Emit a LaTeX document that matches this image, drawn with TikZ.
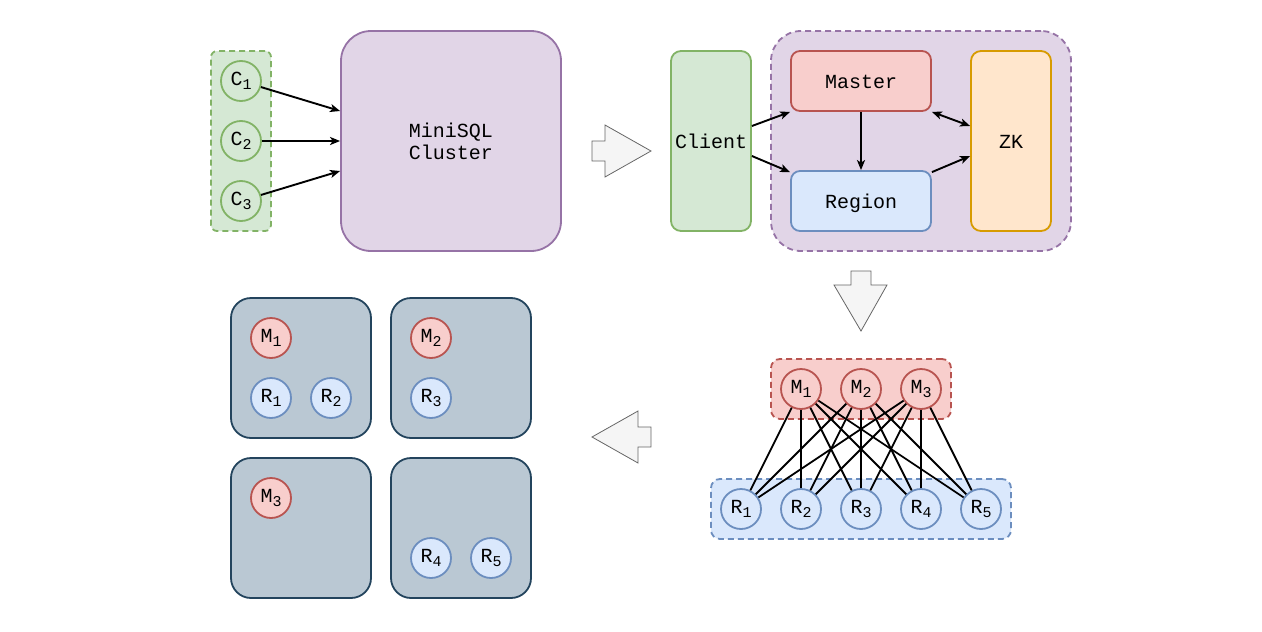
\documentclass[tikz,border=0pt]{standalone}
\usepackage{fontspec}
\setmonofont{Liberation Mono}
\usetikzlibrary{arrows.meta,calc}
\definecolor{gfill}{HTML}{D5E8D4}\definecolor{gline}{HTML}{82B366}
\definecolor{pfill}{HTML}{E1D5E7}\definecolor{pline}{HTML}{9673A6}
\definecolor{rfill}{HTML}{F8CECC}\definecolor{rline}{HTML}{B85450}
\definecolor{bfill}{HTML}{DAE8FC}\definecolor{bline}{HTML}{6C8EBF}
\definecolor{ofill}{HTML}{FFE6CC}\definecolor{oline}{HTML}{D79B00}
\definecolor{sfill}{HTML}{BAC8D3}\definecolor{sline}{HTML}{23445D}
\definecolor{afill}{HTML}{F5F5F5}\definecolor{aline}{HTML}{666666}
\newcommand\myfont{\ttfamily\fontsize{20}{22}\selectfont}
\newcommand\sbs[1]{\raisebox{-4pt}{\fontsize{15}{15}\selectfont#1}}
\tikzset{
  base/.style={draw, line width=1.8pt, font=\myfont, align=center, inner sep=0pt},
  circ/.style={base, circle, minimum size=40pt},
  gcirc/.style={circ, fill=gfill, draw=gline},
  rcirc/.style={circ, fill=rfill, draw=rline},
  bcirc/.style={circ, fill=bfill, draw=bline},
  rbox/.style={base, rectangle, rounded corners=#1},
  oneline/.style={text height=14pt, text depth=0pt},
  dashbox/.style={dash pattern=on 6pt off 4pt},
  conn/.style={line width=1.9pt, -{Stealth[length=10pt,width=8pt,inset=2.5pt]}},
  bconn/.style={line width=1.9pt, {Stealth[length=10pt,width=8pt,inset=2.5pt]}-{Stealth[length=10pt,width=8pt,inset=2.5pt]}},
  mesh/.style={line width=1.8pt},
  bigarrow/.style={fill=afill, draw=aline, line width=0.8pt, line join=miter},
  server/.style={rbox=20pt, fill=sfill, draw=sline, minimum width=140pt, minimum height=140pt}
}
\begin{document}
\begin{tikzpicture}[x=1pt,y=-1pt]
\useasboundingbox (0,0) rectangle (1262,632);
% --- top left
\node[rbox=6pt, dashbox, fill=gfill, draw=gline, minimum width=60pt, minimum height=180pt] (cg) at (241,141) {};
\node[rbox=30pt, fill=pfill, draw=pline, minimum width=220pt, minimum height=220pt] (ms) at (451,141) {MiniSQL\\Cluster};
\node[gcirc] (c1) at (241,81) {C\sbs{1}};
\node[gcirc] (c2) at (241,141) {C\sbs{2}};
\node[gcirc] (c3) at (241,201) {C\sbs{3}};
\draw[conn] (c1) -- ([yshift=30pt]ms.west);
\draw[conn] (c2) -- (ms.west);
\draw[conn] (c3) -- ([yshift=-30pt]ms.west);
% --- arrow 1
\draw[bigarrow] (592,141) -- (605,141) -- (605,125) -- (651,151) -- (605,177) -- (605,161) -- (592,161) -- cycle;
% --- top right
\node[rbox=10pt, oneline, fill=gfill, draw=gline, minimum width=80pt, minimum height=180pt] (cl) at (711,141) {Client};
\node[rbox=30pt, dashbox, fill=pfill, draw=pline, minimum width=300pt, minimum height=220pt] (pc) at (921,141) {};
\node[rbox=9pt, oneline, fill=rfill, draw=rline, minimum width=140pt, minimum height=60pt] (ma) at (861,81) {Master};
\node[rbox=9pt, oneline, fill=bfill, draw=bline, minimum width=140pt, minimum height=60pt] (re) at (861,201) {Region};
\node[rbox=10pt, oneline, fill=ofill, draw=oline, minimum width=80pt, minimum height=180pt] (zk) at (1011,141) {ZK};
\draw[conn] ([yshift=15pt]cl.east) -- (ma.south west);
\draw[conn] ([yshift=-15pt]cl.east) -- ([yshift=-2pt]re.north west);
\draw[conn] (ma) -- (re);
\draw[bconn] (ma.south east) -- ([yshift=15pt]zk.west);
\draw[conn] ([yshift=-2pt]re.north east) -- ([yshift=-15pt]zk.west);
% --- arrow 2
\draw[bigarrow] (851,271) -- (871,271) -- (871,285) -- (887,285) -- (861,331) -- (834,285) -- (851,285) -- cycle;
% --- mesh
\node[rbox=9pt, dashbox, fill=rfill, draw=rline, minimum width=180pt, minimum height=60pt] (mg) at (861,389) {};
\node[rbox=9pt, dashbox, fill=bfill, draw=bline, minimum width=300pt, minimum height=60pt] (rg) at (861,509) {};
\foreach \i/\x in {1/801,2/861,3/921}
  \node[rcirc] (m\i) at (\x,389) {M\sbs{\i}};
\foreach \i/\x in {1/741,2/801,3/861,4/921,5/981}
  \node[bcirc] (r\i) at (\x,509) {R\sbs{\i}};
\foreach \a in {1,2,3}
  \foreach \b in {1,...,5}
    \draw[mesh] (m\a) -- (r\b);
% --- arrow 3
\draw[bigarrow] (651,427) -- (638,427) -- (638,411) -- (592,437) -- (638,463) -- (638,447) -- (651,447) -- cycle;
% --- servers
\node[server] (s1) at (301,368) {};
\node[server] (s2) at (461,368) {};
\node[server] (s3) at (301,528) {};
\node[server] (s4) at (461,528) {};
\node[rcirc] (bm1) at (271,338) {M\sbs{1}};
\node[bcirc] (br1) at (271,398) {R\sbs{1}};
\node[bcirc] (br2) at (331,398) {R\sbs{2}};
\node[rcirc] (bm2) at (431,338) {M\sbs{2}};
\node[bcirc] (br3) at (431,398) {R\sbs{3}};
\node[rcirc] (bm3) at (271,498) {M\sbs{3}};
\node[bcirc] (br4) at (431,558) {R\sbs{4}};
\node[bcirc] (br5) at (491,558) {R\sbs{5}};
\end{tikzpicture}
\end{document}
